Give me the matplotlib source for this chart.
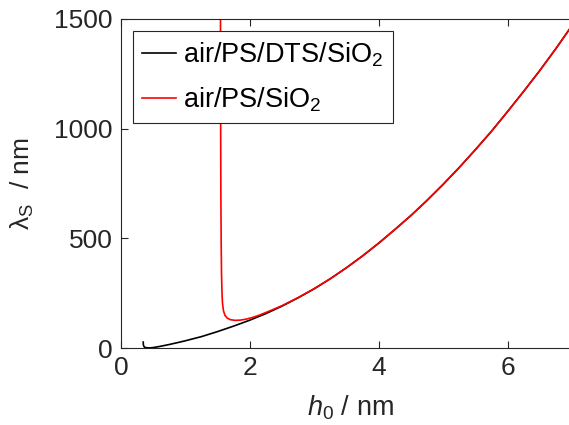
import matplotlib
matplotlib.use("Agg")
import matplotlib.pyplot as plt

plt.rcParams['font.family'] = ['Liberation Sans', 'DejaVu Sans']
plt.rcParams['mathtext.fontset'] = 'custom'
plt.rcParams['mathtext.rm'] = 'Liberation Sans'
plt.rcParams['mathtext.it'] = 'Liberation Sans:italic'

# Film thickness h0 (nm) and spinodal wavelength lambda_S (nm)
h_dts = [0.345, 0.347, 0.355, 0.37, 0.40, 0.45, 0.5, 0.6, 0.75, 0.9, 1.0, 1.25, 1.5,
         1.75, 2.0, 2.25, 2.5, 2.75, 3.0, 3.25, 3.5, 3.75, 4.0, 4.25, 4.5, 4.75,
         5.0, 5.25, 5.5, 5.75, 6.0, 6.25, 6.5, 6.75, 7.0]
lam_dts = [27, 15, 7, 3, 1, 0.5, 2, 7, 16, 26, 33, 52, 75, 100, 127, 157, 191,
           229, 270, 316, 366, 420, 478, 540, 604, 673, 746, 823, 904, 988,
           1078, 1170, 1265, 1365, 1470]

h_ps = [1.544, 1.545, 1.547, 1.550, 1.555, 1.560, 1.567, 1.575, 1.59, 1.615, 1.65,
        1.70, 1.77, 1.85, 1.95, 2.05, 2.15, 2.3, 2.5, 2.75, 3.0, 3.25, 3.5, 3.75, 4.0,
        4.25, 4.5, 4.75, 5.0, 5.25, 5.5, 5.75, 6.0, 6.25, 6.5, 6.75, 7.0]
lam_ps = [1600, 1300, 1000, 700, 480, 340, 255, 205, 170, 148, 136, 129, 126,
          127, 132, 140, 150, 168, 193, 230, 271, 316, 366, 420, 478, 540, 604, 673,
          746, 823, 904, 988, 1078, 1170, 1265, 1365, 1470]

x_ticks = [0, 2, 4, 6]
y_ticks = [0, 500, 1000, 1500]

W, H = 569, 425
fig = plt.figure(figsize=(W / 100, H / 100), dpi=100)
ax = fig.add_axes([121 / W, (H - 348) / H, (572 - 121) / W, (348 - 19) / H])

ax.plot(h_dts, lam_dts, color='black', lw=1.2, label='air/PS/DTS/SiO$_2$')
ax.plot(h_ps, lam_ps, color='#ff0000', lw=1.2, label='air/PS/SiO$_2$')

ax.set_xlim(0, 7)
ax.set_ylim(0, 1500)
ax.set_xticks(x_ticks)
ax.set_yticks(y_ticks)

axc = '#262626'
for s in ax.spines.values():
    s.set_color(axc)
    s.set_linewidth(0.8)
ax.spines['right'].set_visible(False)
ax.tick_params(direction='in', length=5, width=0.8, colors=axc, labelsize=19,
               top=True, right=False, pad=6)

ax.set_xlabel('$\\mathit{h}_\\mathrm{0}$ / nm', fontsize=19.5, color=axc)
ax.xaxis.set_label_coords(350 / W, (H - 394) / H, transform=fig.transFigure)
ax.set_ylabel('λ$_\\mathrm{S}$  / nm', fontsize=19, color=axc, labelpad=13)

leg = ax.legend(loc='upper left', bbox_to_anchor=(133 / W, (H - 31) / H),
                bbox_transform=fig.transFigure, fontsize=19.5, frameon=True,
                fancybox=False, edgecolor='#262626', framealpha=1,
                handlelength=1.25, handletextpad=0.25, borderpad=0.35,
                labelspacing=0.6, borderaxespad=0)
leg.get_frame().set_linewidth(0.8)

fig.savefig('out.png', dpi=100)
